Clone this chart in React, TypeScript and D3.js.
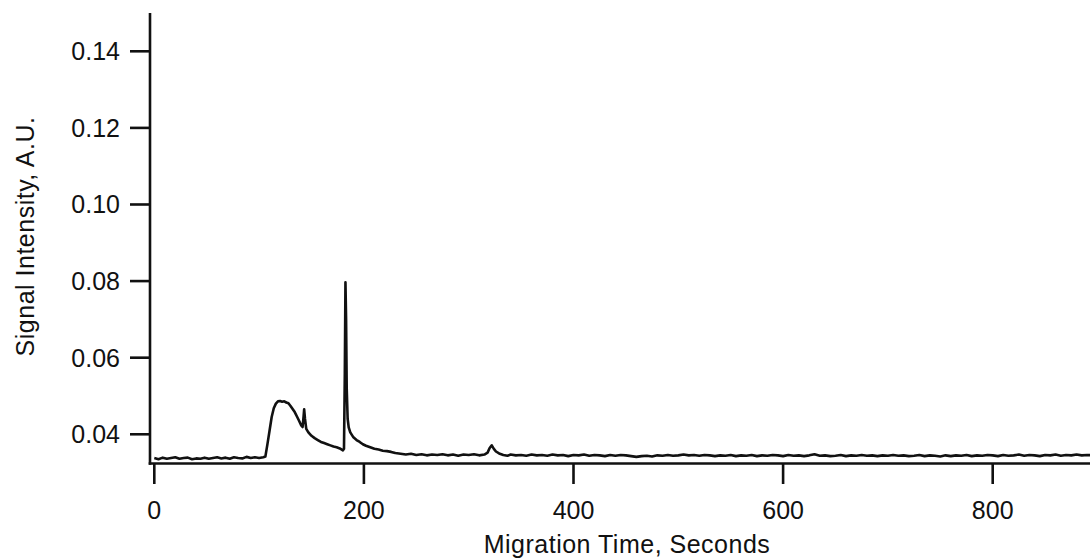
import React from "react";
import * as d3 from "d3";

const xTicks = [0, 200, 400, 600, 800];
const yTicks = [0.04, 0.06, 0.08, 0.1, 0.12, 0.14];
const xTitle = "Migration Time, Seconds";
const yTitle = "Signal Intensity, A.U.";

// [time (s), signal (A.U.)]
const earlyBaseline: [number, number][] = [
  [0, 0.0338], [4, 0.0335], [8, 0.0339], [12, 0.0336], [16, 0.0338], [20, 0.0340],
  [24, 0.0336], [28, 0.0338], [32, 0.0339], [36, 0.0335], [40, 0.0337], [44, 0.0336],
  [48, 0.0339], [52, 0.0336], [56, 0.0338], [60, 0.0340], [64, 0.0337], [68, 0.0339],
  [72, 0.0336], [76, 0.0340], [80, 0.0338], [84, 0.0337], [88, 0.0341], [92, 0.0338],
  [96, 0.0340], [100, 0.0338], [104, 0.0340],
];

const peakRegion: [number, number][] = [
  [106, 0.0342], [108, 0.0375], [110, 0.0410], [112, 0.0445], [114, 0.0468],
  [116, 0.0480], [118, 0.0486], [120, 0.0487], [122, 0.0485], [124, 0.0486],
  [126, 0.0483], [128, 0.0481], [130, 0.0474], [132, 0.0466], [134, 0.0458],
  [136, 0.0447], [138, 0.0436], [140, 0.0424], [141.5, 0.0419], [142.5, 0.0448],
  [143, 0.0465], [143.8, 0.0440], [145, 0.0414], [147, 0.0405], [150, 0.0396],
  [153, 0.0390], [156, 0.0385], [159, 0.0380], [162, 0.0377], [165, 0.0374],
  [168, 0.0371], [171, 0.0368], [174, 0.0366], [177, 0.0363], [180, 0.0358],
  [181, 0.0362], [181.8, 0.0560], [182.4, 0.0797], [183, 0.0700], [183.6, 0.0520],
  [184.5, 0.0440], [185.5, 0.0418], [187, 0.0405], [190, 0.0392], [193, 0.0385],
  [196, 0.0380], [199, 0.0374], [202, 0.0370], [206, 0.0366], [210, 0.0362],
  [214, 0.0360], [218, 0.0357], [222, 0.0356], [226, 0.0354], [230, 0.0351],
];

const lateBaseline: [number, number][] = [
  [235, 0.0349], [240, 0.0347], [245, 0.0349], [250, 0.0346], [255, 0.0348],
  [260, 0.0345], [265, 0.0347], [270, 0.0346], [275, 0.0348], [280, 0.0345],
  [285, 0.0347], [290, 0.0344], [295, 0.0347], [300, 0.0346], [305, 0.0348],
  [310, 0.0345], [315, 0.0347], [318, 0.0352], [320, 0.0364], [322, 0.0371],
  [324, 0.0362], [326, 0.0355], [329, 0.0350], [333, 0.0346], [337, 0.0344],
  [340, 0.0347], [345, 0.0345], [350, 0.0346], [355, 0.0344], [360, 0.0347],
  [365, 0.0345], [370, 0.0346], [375, 0.0344], [380, 0.0347], [385, 0.0345],
  [390, 0.0346], [395, 0.0343], [400, 0.0346], [405, 0.0345], [410, 0.0347],
  [415, 0.0344], [420, 0.0346], [425, 0.0345], [430, 0.0343], [435, 0.0346],
  [440, 0.0344], [445, 0.0346], [450, 0.0345], [455, 0.0343], [460, 0.0341],
  [465, 0.0343], [470, 0.0344], [475, 0.0342], [480, 0.0345], [485, 0.0344],
  [490, 0.0346], [495, 0.0344], [500, 0.0345], [505, 0.0347], [510, 0.0345],
  [515, 0.0346], [520, 0.0344], [525, 0.0346], [530, 0.0345], [535, 0.0343],
  [540, 0.0345], [545, 0.0344], [550, 0.0346], [555, 0.0343], [560, 0.0345],
  [565, 0.0344], [570, 0.0346], [575, 0.0343], [580, 0.0345], [585, 0.0344],
  [590, 0.0346], [595, 0.0345], [600, 0.0343], [605, 0.0346], [610, 0.0344],
  [615, 0.0345], [620, 0.0343], [625, 0.0345], [630, 0.0348], [635, 0.0344],
  [640, 0.0345], [645, 0.0343], [650, 0.0344], [655, 0.0346], [660, 0.0343],
  [665, 0.0345], [670, 0.0344], [675, 0.0346], [680, 0.0344], [685, 0.0345],
  [690, 0.0343], [695, 0.0345], [700, 0.0344], [705, 0.0346], [710, 0.0344],
  [715, 0.0345], [720, 0.0343], [725, 0.0344], [730, 0.0346], [735, 0.0343],
  [740, 0.0345], [745, 0.0344], [750, 0.0342], [755, 0.0345], [760, 0.0343],
  [765, 0.0345], [770, 0.0344], [775, 0.0346], [780, 0.0343], [785, 0.0345],
  [790, 0.0344], [795, 0.0346], [800, 0.0345], [805, 0.0343], [810, 0.0346],
  [815, 0.0344], [820, 0.0345], [825, 0.0347], [830, 0.0344], [835, 0.0346],
  [840, 0.0345], [845, 0.0343], [850, 0.0346], [855, 0.0345], [860, 0.0347],
  [865, 0.0344], [870, 0.0346], [875, 0.0345], [880, 0.0347], [885, 0.0345],
  [890, 0.0346], [895, 0.0345], [900, 0.0346],
];

const W = 1090;
const H = 558;
const FONT = "'Liberation Sans', Arial, Helvetica, sans-serif";

export default function App() {
  const data = [...earlyBaseline, ...peakRegion, ...lateBaseline];
  const x = d3.scaleLinear().domain([0, 900]).range([154.3, 154.3 + 1.048 * 900]);
  const y = d3.scaleLinear().domain([0.0325, 0.15]).range([463, 13]);
  const line = d3
    .line<[number, number]>()
    .x((d) => x(d[0]))
    .y((d) => y(d[1]));
  const axisX = 150;
  const axisY = 463.5;
  const ink = "#111";

  return (
    <svg
      width={W}
      height={H}
      style={{ position: "absolute", left: 0, top: 0, background: "#fff" }}
      fontFamily={FONT}
    >
      <rect x={0} y={0} width={W} height={H} fill="#fff" />
      {/* data line */}
      <path d={line(data) || ""} fill="none" stroke={ink} strokeWidth={2.6} strokeLinejoin="round" />
      {/* y axis */}
      <line x1={axisX} x2={axisX} y1={13} y2={axisY + 1.3} stroke={ink} strokeWidth={2.6} />
      {yTicks.map((t) => (
        <g key={t}>
          <line x1={130} x2={axisX} y1={y(t)} y2={y(t)} stroke={ink} strokeWidth={2.6} />
          <text x={120} y={y(t)} dy="0.36em" textAnchor="end" fontSize={25} fill={ink}>
            {t.toFixed(2)}
          </text>
        </g>
      ))}
      {/* x axis */}
      <line x1={axisX - 1.3} x2={W} y1={axisY} y2={axisY} stroke={ink} strokeWidth={2.6} />
      {xTicks.map((t) => (
        <g key={t}>
          <line x1={x(t)} x2={x(t)} y1={axisY} y2={484} stroke={ink} strokeWidth={2.6} />
          <text x={x(t)} y={519} textAnchor="middle" fontSize={25} fill={ink}>
            {t}
          </text>
        </g>
      ))}
      <text x={627} y={552.5} textAnchor="middle" fontSize={25} letterSpacing={0.5} fill={ink}>
        {xTitle}
      </text>
      <text
        transform={`translate(33.5, 236.5) rotate(-90)`}
        textAnchor="middle"
        fontSize={25}
        letterSpacing={0.5}
        fill={ink}
      >
        {yTitle}
      </text>
    </svg>
  );
}
